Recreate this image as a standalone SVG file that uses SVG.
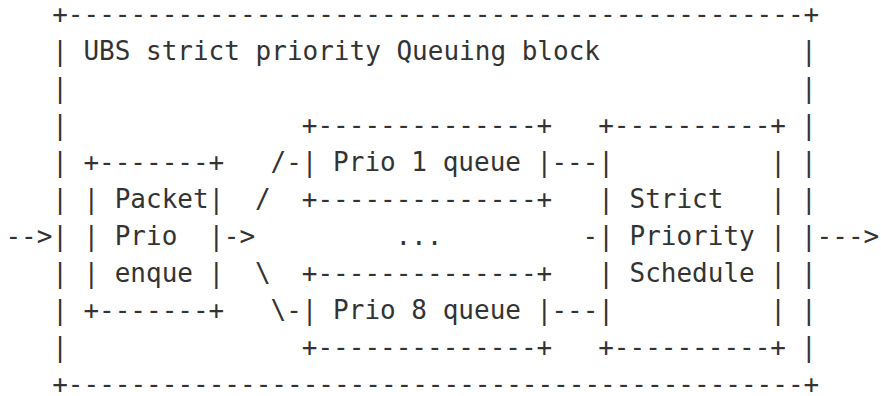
<svg xmlns="http://www.w3.org/2000/svg" width="881" height="396" viewBox="0 0 881 396">
<style>
text{font-family:"DejaVu Sans Mono","Liberation Mono",monospace;font-size:26px;fill:#333;white-space:pre}
</style>
<rect width="881" height="396" fill="#fff"/>
<g id="ubs-block">
<text x="52.2" y="23" xml:space="preserve">+-----------------------------------------------+</text>
<text x="52.2" y="60">|</text><text x="83.4" y="60" xml:space="preserve">UBS strict priority Queuing block</text><text x="801" y="60">|</text>
<text x="52.2" y="97">|</text><text x="801" y="97">|</text>
<text x="52.2" y="134">|</text><text x="801" y="134">|</text>
<text x="52.2" y="171">|</text><text x="801" y="171">|</text>
<text x="52.2" y="208">|</text><text x="801" y="208">|</text>
<text x="52.2" y="245">|</text><text x="801" y="245">|</text>
<text x="52.2" y="282">|</text><text x="801" y="282">|</text>
<text x="52.2" y="319">|</text><text x="801" y="319">|</text>
<text x="52.2" y="356">|</text><text x="801" y="356">|</text>
<text x="52.2" y="393" xml:space="preserve">+-----------------------------------------------+</text>
</g>
<g id="packet-prio-enque">
<text x="83.4" y="171" xml:space="preserve">+-------+</text>
<text x="83.4" y="208" xml:space="preserve">| Packet|</text>
<text x="83.4" y="245" xml:space="preserve">| Prio  |</text>
<text x="83.4" y="282" xml:space="preserve">| enque |</text>
<text x="83.4" y="319" xml:space="preserve">+-------+</text>
</g>
<g id="prio1-queue">
<text x="301.8" y="134" xml:space="preserve">+--------------+</text>
<text x="301.8" y="171" xml:space="preserve">| Prio 1 queue |</text>
<text x="301.8" y="208" xml:space="preserve">+--------------+</text>
</g>
<g id="ellipsis">
<text x="395.4" y="245">...</text>
</g>
<g id="prio8-queue">
<text x="301.8" y="282" xml:space="preserve">+--------------+</text>
<text x="301.8" y="319" xml:space="preserve">| Prio 8 queue |</text>
<text x="301.8" y="356" xml:space="preserve">+--------------+</text>
</g>
<g id="strict-priority-schedule">
<text x="598.2" y="134" xml:space="preserve">+----------+</text>
<text x="598.2" y="171" xml:space="preserve">|          |</text>
<text x="598.2" y="208" xml:space="preserve">| Strict   |</text>
<text x="598.2" y="245" xml:space="preserve">| Priority |</text>
<text x="598.2" y="282" xml:space="preserve">| Schedule |</text>
<text x="598.2" y="319" xml:space="preserve">|          |</text>
<text x="598.2" y="356" xml:space="preserve">+----------+</text>
</g>
<g id="connectors">
<text x="5.4" y="245">--&gt;</text>
<text x="223.8" y="245">-&gt;</text>
<text x="270.6" y="171">/-</text>
<text x="255" y="208">/</text>
<text x="255" y="282">\</text>
<text x="270.6" y="319">\-</text>
<text x="551.4" y="171">---</text>
<text x="582.6" y="245">-</text>
<text x="551.4" y="319">---</text>
<text x="816.6" y="245">---&gt;</text>
</g>
</svg>
